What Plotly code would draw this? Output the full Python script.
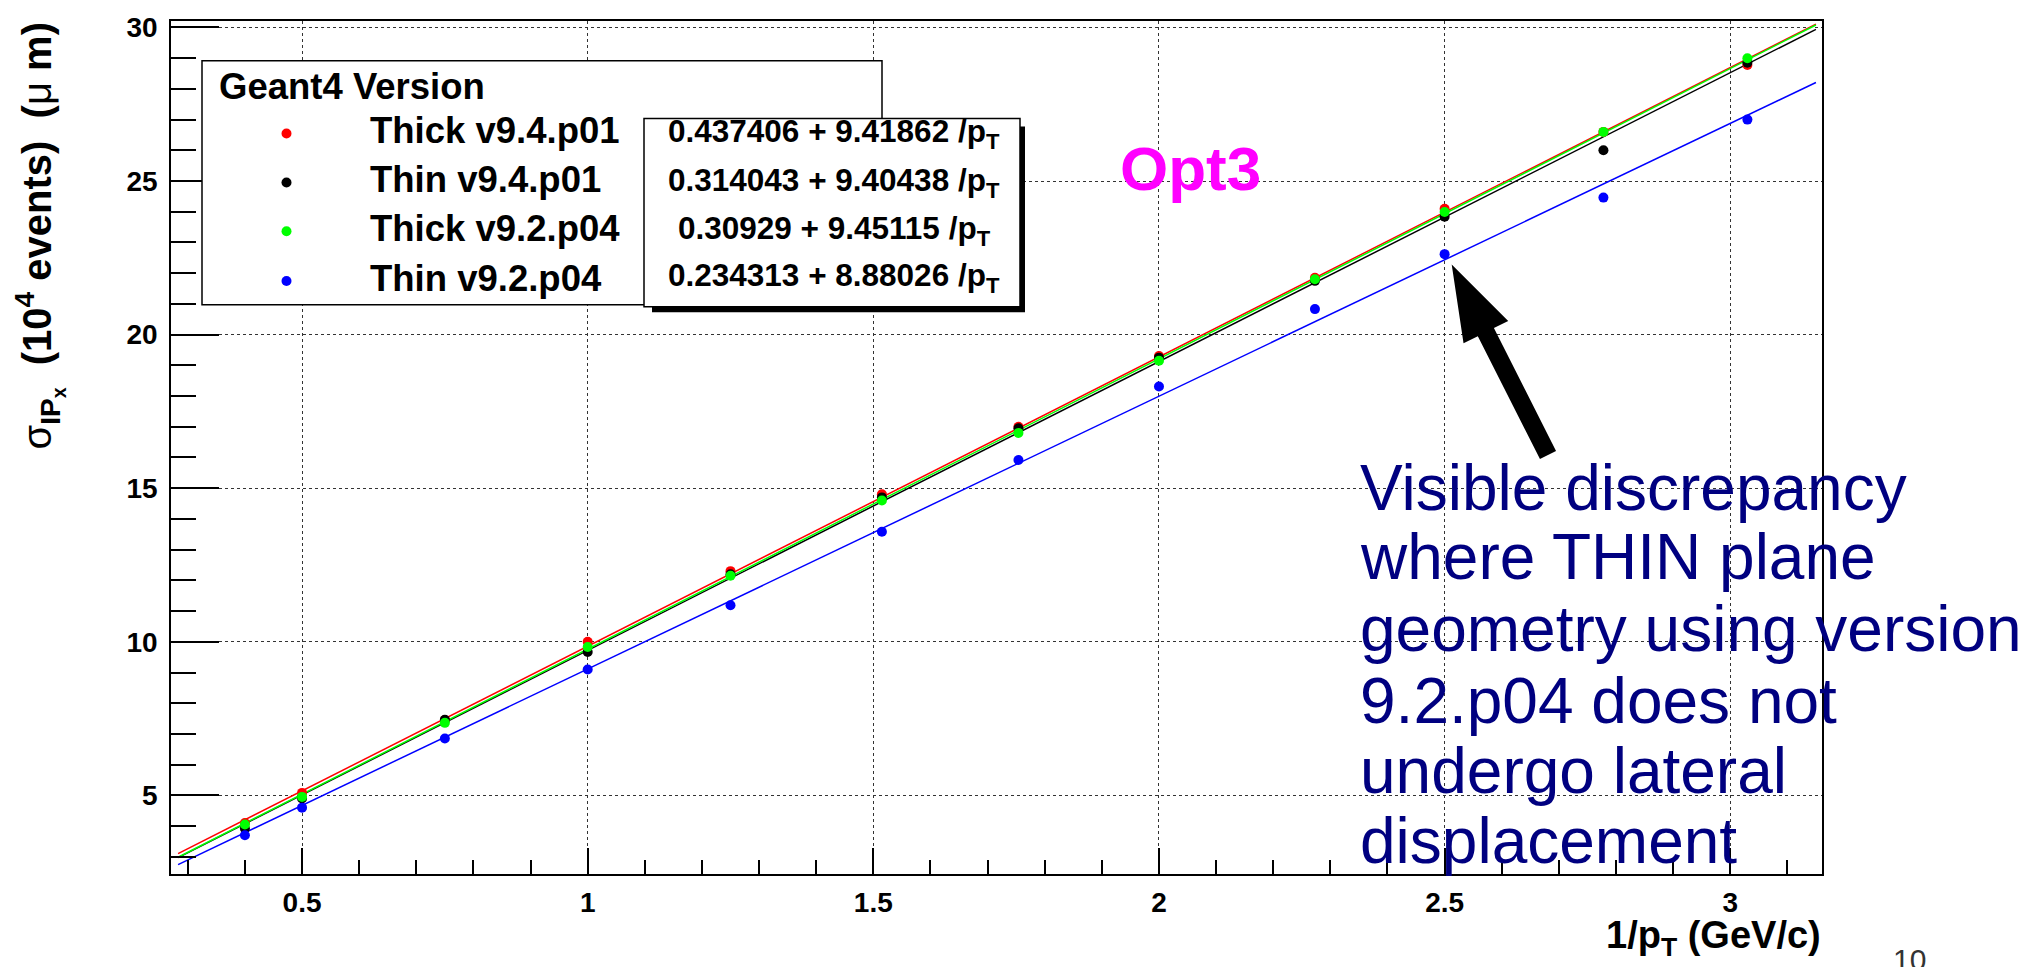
import plotly.graph_objects as go

# ---------------- data ----------------
x_inv_pt = [0.4, 0.5, 0.75, 1.0, 1.25, 1.515, 1.754, 2.0, 2.273, 2.5, 2.778, 3.03]
thick_v94 = [4.10, 5.08, 7.45, 10.00, 12.30, 14.80, 17.00, 19.30, 21.85, 24.10, 26.60, 28.78]
thin_v94 = [3.92, 4.90, 7.46, 9.67, 12.20, 14.70, 16.95, 19.25, 21.75, 23.84, 26.00, 28.85]
thick_v92 = [4.05, 4.95, 7.36, 9.83, 12.15, 14.60, 16.80, 19.15, 21.80, 23.99, 26.60, 29.00]
thin_v92 = [3.70, 4.60, 6.85, 9.10, 11.19, 13.58, 15.92, 18.31, 20.83, 22.62, 24.46, 27.00]

series_names = ["Thick v9.4.p01", "Thin v9.4.p01", "Thick v9.2.p04", "Thin v9.2.p04"]
series_values = [thick_v94, thin_v94, thick_v92, thin_v92]
series_colors = ["#ff0000", "#000000", "#00ff00", "#0000ff"]

fit_const = [0.437406, 0.314043, 0.30929, 0.234313]
fit_slope = [9.41862, 9.40438, 9.45115, 8.88026]
fit_range = [0.283, 3.15]

x_ticks = [0.5, 1, 1.5, 2, 2.5, 3]
y_ticks = [5, 10, 15, 20, 25, 30]
x_range = [0.2706, 3.1606]
y_range = [2.44, 30.21]

legend_title = "Geant4 Version"
label_text = "Opt3"
note_lines = ["Visible discrepancy", "where THIN plane", "geometry using version",
              "9.2.p04 does not", "undergo lateral", "displacement"]
page_number = "10"

# ---------------- geometry ----------------
W, H = 2028, 967
L, R, T, B = 171, 1822, 17, 874
FONT = "Liberation Sans"


def px(x):
    return (x - L) / (R - L)


def py(y):
    return (B - y) / (B - T)


fig = go.Figure()

# fit lines
for name, c, s, col in zip(series_names, fit_const, fit_slope, series_colors):
    fig.add_trace(go.Scatter(
        x=fit_range, y=[c + s * xv for xv in fit_range], mode="lines",
        line=dict(color=col, width=1.5), showlegend=False, hoverinfo="skip"))

# points
for name, vals, col in zip(series_names, series_values, series_colors):
    fig.add_trace(go.Scatter(
        x=x_inv_pt, y=vals, mode="markers", name=name,
        marker=dict(color=col, size=10, line=dict(width=0)), showlegend=False))

shapes = []
annotations = []

# legend box
shapes.append(dict(type="rect", xref="paper", yref="paper",
                   x0=px(202), x1=px(882), y0=py(302), y1=py(57),
                   line=dict(color="black", width=1.5), fillcolor="white", layer="above"))
annotations.append(dict(xref="paper", yref="paper", x=px(217), y=py(82.4), text=legend_title,
                        showarrow=False, xanchor="left", yanchor="middle",
                        font=dict(family=FONT, size=36.5, color="black", weight="bold")))
leg_mark_y = [130, 179.3, 228.3, 278.3]
leg_text_y = [127.4, 176.7, 225.7, 275.7]
for name, col, ym, yt in zip(series_names, series_colors, leg_mark_y, leg_text_y):
    shapes.append(dict(type="circle", xref="paper", yref="paper",
                       x0=px(281.5), x1=px(291.5), y0=py(ym + 5), y1=py(ym - 5),
                       line=dict(width=0), fillcolor=col, layer="above"))
    annotations.append(dict(xref="paper", yref="paper", x=px(368), y=py(yt), text=name,
                            showarrow=False, xanchor="left", yanchor="middle",
                            font=dict(family=FONT, size=36.5, color="black", weight="bold")))

# fit box with shadow
shapes.append(dict(type="rect", xref="paper", yref="paper",
                   x0=px(652), x1=px(1025), y0=py(309.5), y1=py(123),
                   line=dict(width=0), fillcolor="black", layer="above"))
shapes.append(dict(type="rect", xref="paper", yref="paper",
                   x0=px(644), x1=px(1020), y0=py(304), y1=py(115),
                   line=dict(color="black", width=1.5), fillcolor="white", layer="above"))
fit_y = [130.5, 179, 227, 275]
for c, s, yy in zip(fit_const, fit_slope, fit_y):
    annotations.append(dict(xref="paper", yref="paper", x=px(834), y=py(yy),
                            text=f"{c:g} + {s:g} /p<sub>T</sub>",
                            showarrow=False, xanchor="center", yanchor="middle",
                            font=dict(family=FONT, size=31.5, color="black", weight="bold")))

# Opt3 label
annotations.append(dict(xref="paper", yref="paper", x=px(1190), y=py(165.5), text=label_text,
                        showarrow=False, xanchor="center", yanchor="middle",
                        font=dict(family=FONT, size=62, color="#ff00ff", weight="bold")))

# note text
note_base = [508, 578, 650, 722, 793, 863]
for line, yb in zip(note_lines, note_base):
    annotations.append(dict(xref="paper", yref="paper", x=px(1358), y=py(yb - 22.2), text=line,
                            showarrow=False, xanchor="left", yanchor="middle",
                            font=dict(family=FONT, size=64, color="#000080")))

# thick arrow (polygon)
tip = (1451.7, 261.7)
tail = (1548.0, 453.0)
head_len, head_half, shaft_half = 76.0, 25.0, 9.0
dx, dy = tip[0] - tail[0], tip[1] - tail[1]
ln = (dx * dx + dy * dy) ** 0.5
ux, uy = dx / ln, dy / ln
nx, ny = -uy, ux
bx, by = tip[0] - head_len * ux, tip[1] - head_len * uy
pts = [tip,
       (bx + head_half * nx, by + head_half * ny),
       (bx + shaft_half * nx, by + shaft_half * ny),
       (tail[0] + shaft_half * nx, tail[1] + shaft_half * ny),
       (tail[0] - shaft_half * nx, tail[1] - shaft_half * ny),
       (bx - shaft_half * nx, by - shaft_half * ny),
       (bx - head_half * nx, by - head_half * ny)]
path = "M " + " L ".join(f"{px(a):.5f},{py(b):.5f}" for a, b in pts) + " Z"
shapes.append(dict(type="path", xref="paper", yref="paper", path=path,
                   fillcolor="black", line=dict(width=0), layer="above"))

# axis titles
annotations.append(dict(xref="paper", yref="paper", x=px(1823), y=py(938),
                        text="1/p<sub>T</sub> (GeV/c)", showarrow=False,
                        xanchor="right", yanchor="middle",
                        font=dict(family=FONT, size=38, color="black", weight="bold")))
annotations.append(dict(xref="paper", yref="paper", x=px(40), y=py(233.5),
                        text="σ<b><sub>IP<sub>x</sub></sub>\u00a0\u00a0(10<sup>4</sup> events)\u00a0\u00a0(</b>μ<b>\u00a0m)</b>",
                        showarrow=False, textangle=-90,
                        xanchor="center", yanchor="middle",
                        font=dict(family=FONT, size=40, color="black")))

# page number
annotations.append(dict(xref="paper", yref="paper", x=px(1909), y=py(941), text=page_number,
                        showarrow=False, xanchor="center", yanchor="top",
                        font=dict(family=FONT, size=30, color="#333333")))

tickfont = dict(family=FONT, size=28, color="black", weight="bold")
fig.update_layout(
    width=W, height=H,
    margin=dict(l=L, r=W - R, t=T, b=H - B, pad=0),
    paper_bgcolor="white", plot_bgcolor="white",
    shapes=shapes, annotations=annotations,
    showlegend=False,
    xaxis=dict(range=x_range, tickmode="array", tickvals=x_ticks,
               ticktext=[f"{v:g}" for v in x_ticks],
               ticks="inside", ticklen=26, tickwidth=1.5, tickcolor="black",
               minor=dict(tickmode="linear", tick0=0, dtick=0.1, ticks="inside",
                          ticklen=14, tickwidth=1.5, tickcolor="black", showgrid=False),
               showgrid=True, gridcolor="#333333", griddash="dot", gridwidth=1,
               showline=True, linecolor="black", linewidth=1.5, mirror=True,
               zeroline=False, tickfont=tickfont, ticklabelstandoff=3),
    yaxis=dict(range=y_range, tickmode="array", tickvals=y_ticks,
               ticktext=[f"{v:g}" for v in y_ticks],
               ticks="inside", ticklen=48, tickwidth=1.5, tickcolor="black",
               minor=dict(tickmode="linear", tick0=0, dtick=1, ticks="inside",
                          ticklen=25, tickwidth=1.5, tickcolor="black", showgrid=False),
               showgrid=True, gridcolor="#333333", griddash="dot", gridwidth=1,
               showline=True, linecolor="black", linewidth=1.5, mirror=True,
               zeroline=False, tickfont=tickfont, ticklabelstandoff=6),
)

fig.write_html("out.html")
